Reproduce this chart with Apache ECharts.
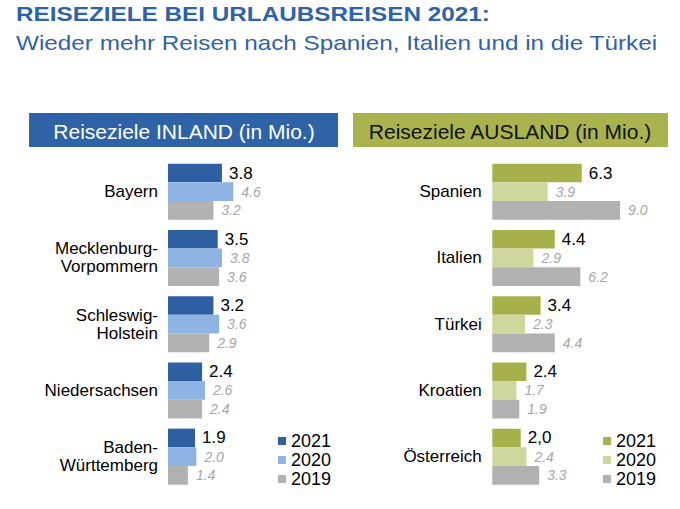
<!DOCTYPE html>
<html>
<head>
<meta charset="utf-8">
<script src="https://cdn.jsdelivr.net/npm/echarts@6/dist/echarts.min.js"></script>
<style>
html,body{margin:0;padding:0;background:#fff;}
#chart{width:680px;height:509px;}
</style>
</head>
<body>
<div id="chart"></div>
<script>
const titleText = 'REISEZIELE BEI URLAUBSREISEN 2021:';
const subtitleText = 'Wieder mehr Reisen nach Spanien, Italien und in die Türkei';
const inlandHeader = 'Reiseziele INLAND (in Mio.)';
const auslandHeader = 'Reiseziele AUSLAND (in Mio.)';
const years = ['2021', '2020', '2019'];

const inlandCategories = ['Bayern', 'Mecklenburg-\nVorpommern', 'Schleswig-\nHolstein', 'Niedersachsen', 'Baden-\nWürttemberg'];
const inland2021 = [3.8, 3.5, 3.2, 2.4, 1.9];
const inland2020 = [4.6, 3.8, 3.6, 2.6, 2.0];
const inland2019 = [3.2, 3.6, 2.9, 2.4, 1.4];

const auslandCategories = ['Spanien', 'Italien', 'Türkei', 'Kroatien', 'Österreich'];
const ausland2021 = [6.3, 4.4, 3.4, 2.4, 2.0];
const ausland2020 = [3.9, 2.9, 2.3, 1.7, 2.4];
const ausland2019 = [9.0, 6.2, 4.4, 1.9, 3.3];
const ausland2021Text = ['6.3', '4.4', '3.4', '2.4', '2,0'];

const FONT = 'Liberation Sans, Arial, sans-serif';
const inlandColors = ['#2E5FA3', '#8DB4E2', '#B1B1B1'];
const auslandColors = ['#A6B14B', '#CFD89C', '#B1B1B1'];

const chart = echarts.init(document.getElementById('chart'), null, {renderer: 'svg'});

function makeSeries(prefix, idx, values, colors, textArr) {
  return values.map((vals, k) => ({
    name: prefix + ' ' + years[k],
    type: 'bar',
    xAxisIndex: idx,
    yAxisIndex: idx,
    data: vals,
    barWidth: 18.7,
    barGap: '0%',
    itemStyle: {color: colors[k]},
    label: k === 0 ? {
      show: true, position: 'right', distance: 7,
      fontFamily: FONT, fontSize: 17, color: '#000',
      formatter: p => textArr ? textArr[p.dataIndex] : p.value.toFixed(1)
    } : {
      show: true, position: 'right', distance: 8,
      fontFamily: FONT, fontSize: 14, fontStyle: 'italic', color: '#A6A6A6',
      formatter: p => p.value.toFixed(1)
    },
    silent: true
  }));
}

const gridTop = 158.6, gridH = 331.2;
const legendText = {fontFamily: FONT, fontSize: 18, color: '#000', lineHeight: 19};

const option = {
  animation: false,
  backgroundColor: '#fff',
  textStyle: {fontFamily: FONT},
  graphic: [
    {type: 'text', x: 16, y: 14.5, scaleX: 1.215, silent: true,
     style: {text: titleText, fill: '#2E63AA', font: 'bold 20px ' + FONT, textVerticalAlign: 'middle'}},
    {type: 'text', x: 16, y: 43, scaleX: 1.215, silent: true,
     style: {text: subtitleText, fill: '#2E63AA', font: '20px ' + FONT, textVerticalAlign: 'middle'}},
    {type: 'rect', shape: {x: 29, y: 113, width: 309, height: 34}, style: {fill: '#2E63A8'}, silent: true},
    {type: 'text', x: 184, y: 131, style: {text: inlandHeader, fill: '#fff', font: '21px ' + FONT, textAlign: 'center', textVerticalAlign: 'middle'}, silent: true},
    {type: 'rect', shape: {x: 353, y: 113, width: 315, height: 34}, style: {fill: '#A8B34E'}, silent: true},
    {type: 'text', x: 510, y: 131, style: {text: auslandHeader, fill: '#111', font: '21px ' + FONT, textAlign: 'center', textVerticalAlign: 'middle'}, silent: true}
  ],
  legend: [
    {
      data: years.map(y => 'Inland ' + y), orient: 'vertical', left: 273, top: 426.5,
      icon: 'rect', itemWidth: 8, itemHeight: 8, itemGap: 0, selectedMode: false,
      formatter: n => n.split(' ')[1], textStyle: legendText
    },
    {
      data: years.map(y => 'Ausland ' + y), orient: 'vertical', left: 598, top: 426.5,
      icon: 'rect', itemWidth: 8, itemHeight: 8, itemGap: 0, selectedMode: false,
      formatter: n => n.split(' ')[1], textStyle: legendText
    }
  ],
  grid: [
    {left: 168, top: gridTop, width: 142, height: gridH},
    {left: 492.3, top: gridTop, width: 142, height: gridH}
  ],
  xAxis: [
    {type: 'value', gridIndex: 0, min: 0, max: 10, show: false},
    {type: 'value', gridIndex: 1, min: 0, max: 10, show: false}
  ],
  yAxis: [
    {type: 'category', gridIndex: 0, inverse: true, data: inlandCategories,
     axisLine: {show: false}, axisTick: {show: false}, splitLine: {show: false},
     axisLabel: {fontFamily: FONT, fontSize: 17, color: '#000', margin: 10, lineHeight: 18, align: 'right'}},
    {type: 'category', gridIndex: 1, inverse: true, data: auslandCategories,
     axisLine: {show: false}, axisTick: {show: false}, splitLine: {show: false},
     axisLabel: {fontFamily: FONT, fontSize: 17, color: '#000', margin: 10.5, lineHeight: 18, align: 'right'}}
  ],
  series: [
    ...makeSeries('Inland', 0, [inland2021, inland2020, inland2019], inlandColors, null),
    ...makeSeries('Ausland', 1, [ausland2021, ausland2020, ausland2019], auslandColors, ausland2021Text)
  ]
};
chart.setOption(option);
</script>
</body>
</html>
